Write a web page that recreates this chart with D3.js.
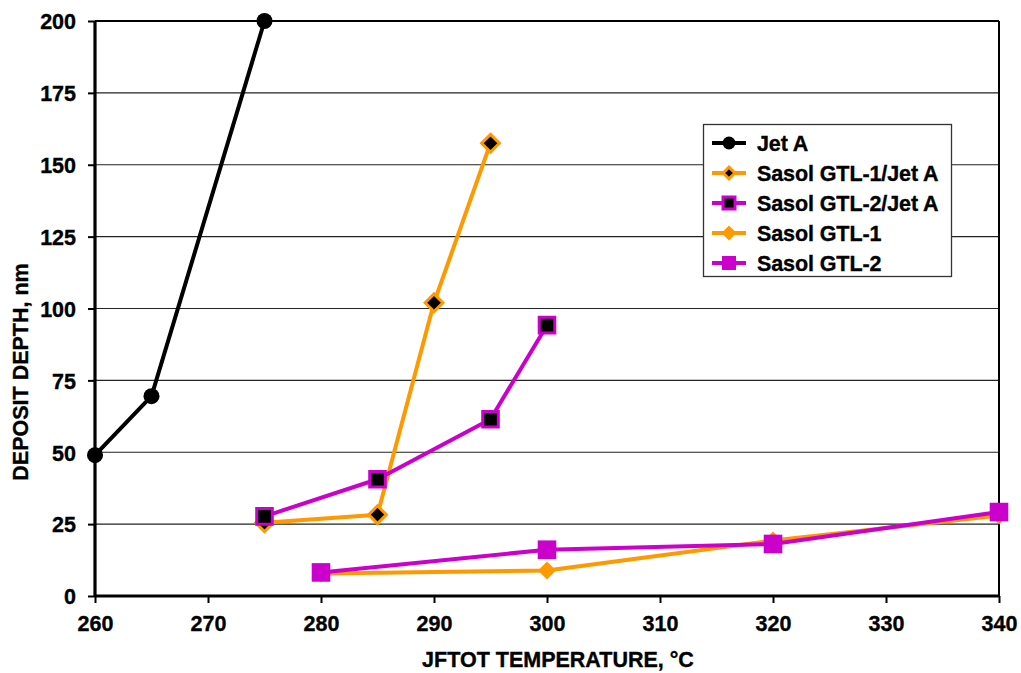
<!DOCTYPE html>
<html>
<head>
<meta charset="utf-8">
<script src="https://cdn.jsdelivr.net/npm/d3@7"></script>
<style>
  html, body { margin: 0; padding: 0; background: #fff; }
  svg { display: block; }
  text { font-family: "Liberation Sans", Arial, sans-serif; font-weight: bold; fill: #000; stroke: #000; stroke-width: 0.35px; }
</style>
</head>
<body>
<svg id="chart" width="1021" height="673"></svg>
<script>
// ---- data ----
const xTicks = [260, 270, 280, 290, 300, 310, 320, 330, 340];
const yTicks = [0, 25, 50, 75, 100, 125, 150, 175, 200];

const jetA_x = [260, 265, 275];
const jetA_y = [49, 69.5, 200];

const gtl1Blend_x = [275, 285, 290, 295];
const gtl1Blend_y = [25.5, 28.3, 102, 157.5];

const gtl2Blend_x = [275, 285, 295, 300];
const gtl2Blend_y = [27.7, 40.6, 61.5, 94.2];

const gtl1_x = [280, 300, 320, 340];
const gtl1_y = [7.8, 8.9, 19.3, 28];

const gtl2_x = [280, 300, 320, 340];
const gtl2_y = [8.2, 16.1, 18.1, 29.2];

const seriesNames = ["Jet A", "Sasol GTL-1/Jet A", "Sasol GTL-2/Jet A", "Sasol GTL-1", "Sasol GTL-2"];

const xTitle = "JFTOT TEMPERATURE, °C";
const yTitle = "DEPOSIT DEPTH, nm";

// ---- styles ----
const ORANGE = "#FF9900", MAGENTA = "#CC00CC", BLACK = "#000000";
const series = [
  { name: seriesNames[0], xs: jetA_x, ys: jetA_y, line: BLACK, shape: "circle", fill: BLACK, stroke: BLACK, size: 8, lsize: 6.5 },
  { name: seriesNames[1], xs: gtl1Blend_x, ys: gtl1Blend_y, line: ORANGE, shape: "diamond", fill: BLACK, stroke: ORANGE, size: 11, lsize: 8 },
  { name: seriesNames[2], xs: gtl2Blend_x, ys: gtl2Blend_y, line: MAGENTA, shape: "square", fill: BLACK, stroke: MAGENTA, size: 9.3, lsize: 7.5 },
  { name: seriesNames[3], xs: gtl1_x, ys: gtl1_y, line: ORANGE, shape: "diamond", fill: ORANGE, stroke: ORANGE, size: 9, lsize: 7.5 },
  { name: seriesNames[4], xs: gtl2_x, ys: gtl2_y, line: MAGENTA, shape: "square", fill: MAGENTA, stroke: MAGENTA, size: 9.3, lsize: 7 }
];

const W = 1021, H = 673;
const margin = { left: 95, right: 22, top: 21, bottom: 77 };
const FS = 21.5;

const svg = d3.select("#chart");
const x = d3.scaleLinear().domain([260, 340]).range([margin.left, W - margin.right]);
const y = d3.scaleLinear().domain([0, 200]).range([H - margin.bottom, margin.top]);

// gridlines
svg.append("g").selectAll("line").data(yTicks.filter(d => d > 0 && d < 200)).join("line")
  .attr("x1", x(260)).attr("x2", x(340))
  .attr("y1", d => y(d)).attr("y2", d => y(d))
  .attr("stroke", "#222").attr("stroke-width", 1.2);

// plot border top & right
svg.append("line").attr("x1", x(260)).attr("x2", x(340)).attr("y1", y(200)).attr("y2", y(200))
  .attr("stroke", "#000").attr("stroke-width", 2);
svg.append("line").attr("x1", x(340)).attr("x2", x(340)).attr("y1", y(200)).attr("y2", y(0))
  .attr("stroke", "#000").attr("stroke-width", 2);

// axes
const xAxis = d3.axisBottom(x).tickValues(xTicks).tickSize(7).tickPadding(13).tickFormat(d3.format("d"));
const yAxis = d3.axisLeft(y).tickValues(yTicks).tickSize(7).tickPadding(12).tickFormat(d3.format("d"));

const gx = svg.append("g").attr("transform", `translate(0,${y(0)})`).call(xAxis);
const gy = svg.append("g").attr("transform", `translate(${x(260)},0)`).call(yAxis);
[gx, gy].forEach(g => {
  g.select(".domain").attr("stroke", "#000").attr("stroke-width", 3.2);
  g.selectAll(".tick line").attr("stroke", "#000").attr("stroke-width", 2);
  g.selectAll(".tick text").style("font-family", '"Liberation Sans", Arial, sans-serif')
    .style("font-weight", "bold").style("font-size", FS + "px").attr("fill", "#000")
    .attr("stroke", "#000").attr("stroke-width", 0.35);
});
gx.select(".domain").attr("d", `M${x(260)},0H${x(340)}`);
gy.select(".domain").attr("d", `M0,${y(0)}V${y(200)}`);
gy.selectAll(".tick text").attr("dy", "0.36em");

// titles
svg.append("text").attr("x", 558).attr("y", 667).attr("text-anchor", "middle")
  .style("font-size", FS + "px").text(xTitle);
svg.append("text").attr("transform", "translate(28,372) rotate(-90)").attr("text-anchor", "middle")
  .style("font-size", FS + "px").text(yTitle);

// marker path
function markerPath(shape, s) {
  if (shape === "diamond") return `M0,${-s}L${s},0L0,${s}L${-s},0Z`;
  if (shape === "square") return `M${-s},${-s}H${s}V${s}H${-s}Z`;
  return null;
}
function drawMarker(g, d, cx, cy, s) {
  if (d.shape === "circle") {
    g.append("circle").attr("cx", cx).attr("cy", cy).attr("r", s).attr("fill", d.fill);
  } else {
    const inner = d.fill !== d.stroke;
    const sw = 3;
    const ss = inner ? (d.shape === "diamond" ? s - sw * 0.71 : s - sw / 2) : s;
    g.append("path").attr("d", markerPath(d.shape, ss))
      .attr("transform", `translate(${cx},${cy})`)
      .attr("fill", d.fill).attr("stroke", d.stroke).attr("stroke-width", inner ? sw : 0)
      .attr("stroke-linejoin", "miter");
  }
}

// series
const line = d3.line().x(p => x(p[0])).y(p => y(p[1]));
series.forEach(d => {
  const pts = d.xs.map((v, i) => [v, d.ys[i]]);
  const g = svg.append("g");
  g.append("path").attr("d", line(pts)).attr("fill", "none")
    .attr("stroke", d.line).attr("stroke-width", 4).attr("stroke-linejoin", "round");
  pts.forEach(p => drawMarker(g, d, x(p[0]), y(p[1]), d.size));
});

// legend
const lg = svg.append("g");
lg.append("rect").attr("x", 703.5).attr("y", 124.5).attr("width", 248).attr("height", 152)
  .attr("fill", "#fff").attr("stroke", "#333").attr("stroke-width", 1.3);
series.forEach((d, i) => {
  const cy = 143 + i * 30;
  lg.append("line").attr("x1", 712).attr("x2", 746).attr("y1", cy).attr("y2", cy)
    .attr("stroke", d.line).attr("stroke-width", 4);
  drawMarker(lg, d, 729, cy, d.lsize);
  lg.append("text").attr("x", 757).attr("y", cy).attr("dy", "0.36em")
    .style("font-size", FS + "px").style("letter-spacing", "-0.1px").text(d.name);
});
</script>
</body>
</html>
